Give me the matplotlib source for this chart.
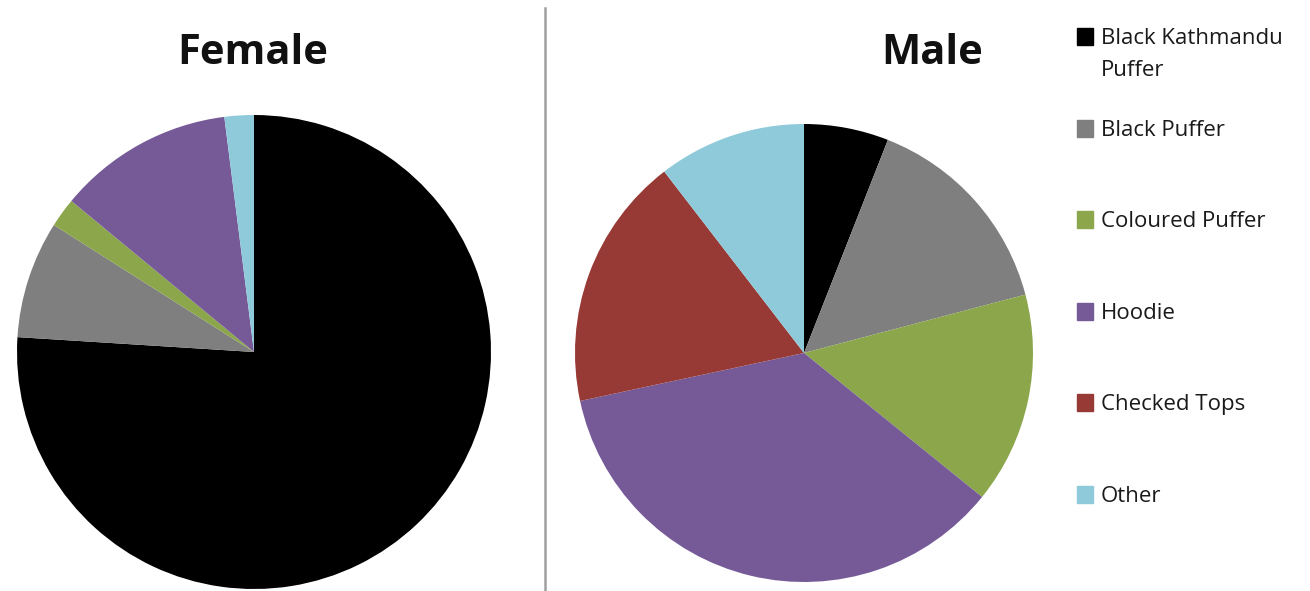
import matplotlib
matplotlib.use('Agg')
import matplotlib.pyplot as plt
from matplotlib.patches import Rectangle
from matplotlib.lines import Line2D

# data
labels = ['Black Kathmandu\nPuffer', 'Black Puffer', 'Coloured Puffer', 'Hoodie', 'Checked Tops', 'Other']
female = [38, 4, 1, 6, 0, 1]
male = [4, 10, 10, 24, 12, 7]
colors = ['#000000', '#7f7f7f', '#8ba64b', '#765a98', '#973a36', '#8fcadb']

plt.rcParams['font.family'] = ['Open Sans', 'DejaVu Sans']

W, H = 1310, 591
fig = plt.figure(figsize=(W / 100, H / 100), dpi=100)

def px_axes(cx, cy, r):
    # square axes centred on (cx, cy) pixels from top-left
    return fig.add_axes([(cx - r) / W, (H - cy - r) / H, 2 * r / W, 2 * r / H])

ax_f = px_axes(254, 352, 237)
ax_m = px_axes(804, 353, 229)
for ax, vals in [(ax_f, female), (ax_m, male)]:
    ax.pie(vals, colors=colors, startangle=90, counterclock=False,
           wedgeprops=dict(linewidth=0))
    ax.set_xlim(-1, 1)
    ax.set_ylim(-1, 1)
    ax.set_aspect('equal')
    ax.axis('off')

fig.text(253 / W, 1 - 53 / H, 'Female', ha='center', va='center',
         fontsize=30, fontweight='bold', color='#111111')
fig.text(932 / W, 1 - 53 / H, 'Male', ha='center', va='center',
         fontsize=30, fontweight='bold', color='#111111')

# divider
fig.lines.append(Line2D([545 / W, 545 / W], [0, 1 - 8 / H], transform=fig.transFigure,
                        color='#a0a0a0', linewidth=1.8))

# legend
y0 = 36.5
step = 91.6
for i, (lab, col) in enumerate(zip(labels, colors)):
    y = y0 + i * step
    fig.patches.append(Rectangle((1077 / W, 1 - (y + 8.5) / H), 16 / W, 17 / H,
                                 transform=fig.transFigure, color=col))
    fig.text(1101 / W, 1 - (y - 8.5) / H, lab, ha='left', va='top',
             fontsize=16, color='#1a1a1a', linespacing=1.7)

fig.savefig('out.png', dpi=100)
